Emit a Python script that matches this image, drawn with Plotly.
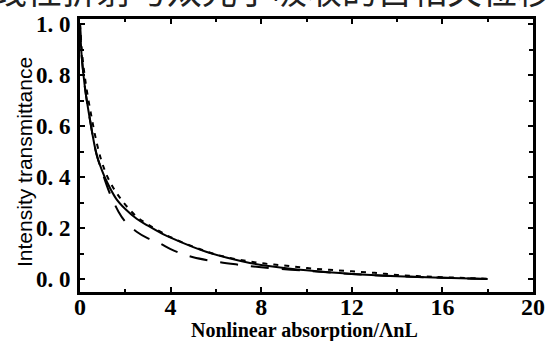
import plotly.graph_objects as go

# ---- data ----
solid_x = [0, 0.07, 0.22, 0.44, 0.73, 1.0, 1.17, 1.6, 2.0, 2.5, 3.0, 3.6, 4.0, 5.0, 5.6, 6.5, 7.5, 8.5, 10, 12, 14, 16, 18]
solid_y = [1.0, 0.88, 0.75, 0.625, 0.49, 0.42, 0.385, 0.315, 0.275, 0.237, 0.21, 0.18, 0.163, 0.126, 0.107, 0.084, 0.064, 0.05, 0.035, 0.021, 0.012, 0.006, 0.001]

short_x = [0, 0.1, 0.25, 0.5, 0.75, 1.0, 1.3, 1.8, 2.5, 3.0, 4.0, 5.0, 6.0, 7.0, 8.0, 9.0, 10, 11, 12, 13, 14, 15, 16, 17, 18]
short_y = [1.0, 0.88, 0.77, 0.64, 0.53, 0.45, 0.385, 0.315, 0.245, 0.215, 0.165, 0.128, 0.097, 0.077, 0.063, 0.054, 0.044, 0.037, 0.031, 0.025, 0.017, 0.012, 0.008, 0.005, 0.002]

long_x = [0, 0.07, 0.22, 0.44, 0.73, 1.0, 1.3, 1.7, 2.0, 2.5, 3.0, 3.5, 4.0, 4.5, 5.0, 6.0, 7.0, 8.0, 10, 12, 14, 16, 18]
long_y = [1.0, 0.88, 0.75, 0.625, 0.49, 0.415, 0.34, 0.265, 0.226, 0.186, 0.16, 0.142, 0.118, 0.1, 0.086, 0.069, 0.057, 0.047, 0.033, 0.021, 0.012, 0.006, 0.001]

y_tickvals = [0.0, 0.2, 0.4, 0.6, 0.8, 1.0]
y_ticktext = ["0.\u00a00", "0.\u00a02", "0.\u00a04", "0.\u00a06", "0.\u00a08", "1.\u00a00"]
x_tickvals = [0, 4, 8, 12, 16, 20]
x_ticktext = ["0", "4", "8", "12", "16", "20"]

x_title = "Nonlinear absorption/ΛnL"
y_title = "Intensity transmittance"
top_text = "线性折射与双光子吸收的自相关位移"

fig = go.Figure()
fig.add_trace(go.Scatter(x=solid_x, y=solid_y, mode="lines", line=dict(color="black", width=2, shape="spline")))
fig.add_trace(go.Scatter(x=short_x, y=short_y, mode="lines", line=dict(color="black", width=2, dash="5px,6px", shape="spline")))
fig.add_trace(go.Scatter(x=long_x, y=long_y, mode="lines", line=dict(color="black", width=2, dash="18px,13px", shape="spline")))

L, R, T, B = 80, 23, 13, 49
W, H = 557, 341
pw = W - L - R
ph = H - T - B

serif = "Liberation Serif"
fig.update_layout(
    width=W, height=H, autosize=False,
    margin=dict(l=L, r=R, t=T, b=B, pad=0),
    paper_bgcolor="white", plot_bgcolor="white",
    showlegend=False,
    xaxis=dict(range=[0, 20], tickvals=x_tickvals, ticktext=x_ticktext,
               ticks="inside", ticklen=5, tickwidth=1.5, tickcolor="black",
               minor=dict(tickvals=[2, 6, 10, 14, 18], ticks="inside", ticklen=3, tickcolor="black"),
               showline=True, linewidth=3, linecolor="black", mirror="allticks",
               showgrid=False, zeroline=False, ticklabelstandoff=-9,
               tickfont=dict(family=serif, size=24, color="black", weight="bold")),
    yaxis=dict(range=[-0.05, 1.02], tickvals=y_tickvals, ticktext=y_ticktext,
               ticks="inside", ticklen=5, tickwidth=1.5, tickcolor="black",
               minor=dict(tickvals=[0.1, 0.3, 0.5, 0.7, 0.9], ticks="inside", ticklen=4, tickcolor="black"),
               showline=True, linewidth=3, linecolor="black", mirror="allticks",
               showgrid=False, zeroline=False, ticklabelstandoff=2,
               tickfont=dict(family=serif, size=23, color="black", weight="bold")),
)

def px2paper_x(px):
    return (px - L) / pw

def py2paper_y(py):
    return (H - B - py) / ph

fig.add_annotation(text=x_title, xref="paper", yref="paper",
                   x=px2paper_x(305), y=py2paper_y(331), xanchor="center", yanchor="middle",
                   showarrow=False, font=dict(family=serif, size=20, color="black", weight="bold"))
fig.add_annotation(text=y_title, xref="paper", yref="paper", textangle=-90,
                   x=px2paper_x(25), y=py2paper_y(159), xanchor="center", yanchor="middle",
                   showarrow=False, font=dict(family="Liberation Sans", size=21, color="black"))
fig.add_annotation(text=top_text, xref="paper", yref="paper",
                   x=px2paper_x(-10), y=py2paper_y(-18), xanchor="left", yanchor="middle",
                   showarrow=False, font=dict(family="Noto Sans CJK SC", size=35, color="#222"))

fig.write_html("out.html")
